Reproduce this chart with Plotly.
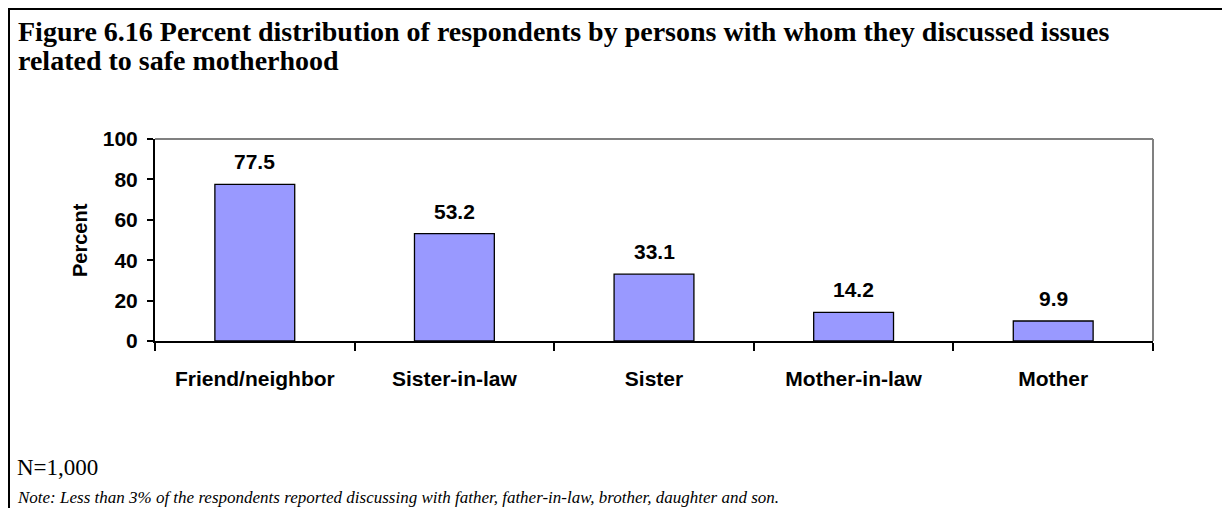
import plotly.graph_objects as go

categories = ["Friend/neighbor", "Sister-in-law", "Sister", "Mother-in-law", "Mother"]
values = [77.5, 53.2, 33.1, 14.2, 9.9]
y_ticks = [0, 20, 40, 60, 80, 100]

title_line1 = "<b>Figure 6.16 Percent distribution of respondents by persons with whom they discussed issues</b>"
title_line2 = "<b>related to safe motherhood</b>"
n_text = "N=1,000"
note_text = ("<i>Note: Less than 3% of the respondents reported discussing with father, father-in-law, "
             "brother, daughter and son.</i>")

OFF = 8  # default page body margin
W, H = 1230 - OFF, 508 - OFF
# plot area, in page pixels
L, R, T, B = 155, 1153, 139, 341


def px(x):
    return (x - L) / (R - L)


def py(y):
    return (B - y) / (B - T)


SANS = "Liberation Sans, Arial"
SERIF = "Liberation Serif, Times New Roman"

fig = go.Figure()
fig.add_trace(go.Bar(
    x=categories, y=values, width=0.4,
    marker=dict(color="#9999FF", line=dict(color="black", width=1.3)),
    hoverinfo="skip",
))

annotations = []
for c, v in zip(categories, values):
    annotations.append(dict(
        x=c, y=v, xref="x", yref="y", text=f"<b>{v:.1f}</b>", showarrow=False,
        yanchor="bottom", yshift=9,
        font=dict(family=SANS, size=21, color="black"),
    ))

annotations += [
    dict(x=px(16), y=py(31), xref="paper", yref="paper", xanchor="left", yanchor="middle",
         text=title_line1, showarrow=False, align="left",
         font=dict(family=SERIF, size=28, color="black")),
    dict(x=px(16), y=py(60), xref="paper", yref="paper", xanchor="left", yanchor="middle",
         text=title_line2, showarrow=False, align="left",
         font=dict(family=SERIF, size=28, color="black")),
    dict(x=px(80), y=py(240), xref="paper", yref="paper", xanchor="center", yanchor="middle",
         text="<b>Percent</b>", textangle=-90, showarrow=False,
         font=dict(family=SANS, size=20, color="black")),
    dict(x=px(15), y=py(467), xref="paper", yref="paper", xanchor="left", yanchor="middle",
         text=n_text, showarrow=False,
         font=dict(family=SERIF, size=23, color="black")),
    dict(x=px(15), y=py(497), xref="paper", yref="paper", xanchor="left", yanchor="middle",
         text=note_text, showarrow=False,
         font=dict(family=SERIF, size=17, color="black")),
]

shapes = [
    # gray top and right plot border
    dict(type="line", xref="paper", yref="paper", x0=0, x1=1, y0=1, y1=1,
         line=dict(color="#808080", width=2), layer="below"),
    dict(type="line", xref="paper", yref="paper", x0=1, x1=1, y0=0, y1=1,
         line=dict(color="#808080", width=2), layer="below"),
    # outer frame (top and left)
    dict(type="line", xref="paper", yref="paper", x0=px(8), x1=px(1240), y0=py(9), y1=py(9),
         line=dict(color="black", width=2)),
    dict(type="line", xref="paper", yref="paper", x0=px(9), x1=px(9), y0=py(8), y1=py(520),
         line=dict(color="black", width=2)),
]

fig.update_layout(
    width=W, height=H,
    margin=dict(l=L - OFF, r=1230 - R, t=T - OFF, b=508 - B),
    paper_bgcolor="white", plot_bgcolor="white",
    showlegend=False,
    annotations=annotations,
    shapes=shapes,
)
fig.update_xaxes(
    showline=True, linecolor="black", linewidth=2,
    ticks="outside", tickson="boundaries", ticklen=8, tickwidth=2, tickcolor="black",
    tickfont=dict(family=SANS, size=21, color="black"),
    ticklabelstandoff=18,
    showgrid=False, zeroline=False,
    tickprefix="<b>", ticksuffix="</b>",
)
fig.update_yaxes(
    range=[0, 100], tickvals=y_ticks, ticktext=[f"<b>{t}</b>" for t in y_ticks],
    showline=True, linecolor="black", linewidth=2,
    ticks="outside", ticklen=6, tickwidth=2, tickcolor="black",
    tickfont=dict(family=SANS, size=21, color="black"),
    ticklabelstandoff=5,
    showgrid=False, zeroline=False,
)

fig.write_html("out.html")
